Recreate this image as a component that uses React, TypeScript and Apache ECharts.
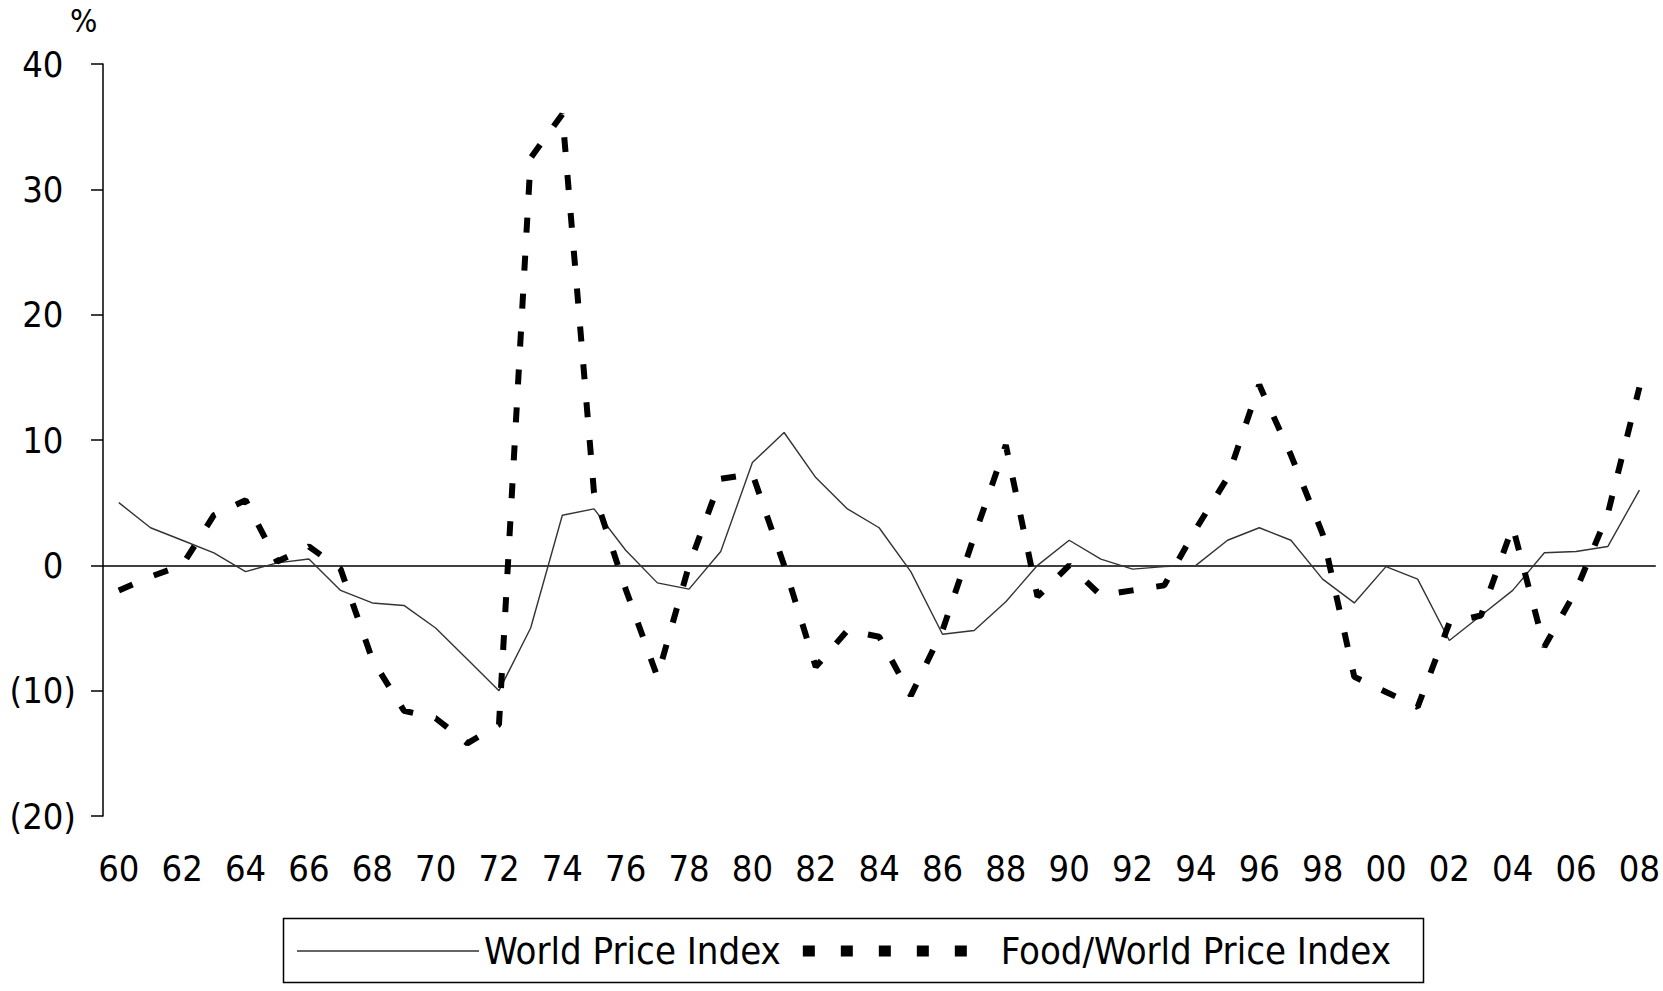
import React, { useEffect, useRef } from "react";
import * as echarts from "echarts";

const years: string[] = [
  "60","61","62","63","64","65","66","67","68","69",
  "70","71","72","73","74","75","76","77","78","79",
  "80","81","82","83","84","85","86","87","88","89",
  "90","91","92","93","94","95","96","97","98","99",
  "00","01","02","03","04","05","06","07","08",
];

const worldPriceIndex: number[] = [
  5.0, 3.0, 2.0, 1.0, -0.5, 0.2, 0.5, -2.0, -3.0, -3.2,
  -5.0, -7.5, -10.0, -5.0, 4.0, 4.5, 1.2, -1.4, -1.9, 1.1,
  8.2, 10.6, 7.0, 4.5, 3.0, -0.5, -5.5, -5.2, -2.9, 0.0,
  2.0, 0.5, -0.3, -0.1, 0.0, 2.0, 3.0, 2.0, -1.1, -3.0,
  -0.1, -1.1, -6.0, -4.0, -2.0, 1.0, 1.1, 1.5, 6.0,
];

const foodWorldPriceIndex: number[] = [
  -2.0, -0.9, 0.0, 4.0, 5.2, 0.3, 1.5, -0.3, -7.5, -11.6,
  -12.2, -14.2, -12.7, 32.5, 36.0, 5.8, -1.9, -8.9, 0.0, 6.9,
  7.3, 0.0, -8.1, -5.2, -5.7, -10.4, -5.2, 2.3, 9.6, -2.5,
  0.0, -2.4, -2.0, -1.6, 2.9, 7.0, 14.4, 8.8, 2.5, -8.9,
  -10.1, -11.3, -4.6, -4.0, 3.1, -6.5, -2.0, 4.1, 14.2,
];

const seriesNames: string[] = ["World Price Index", "Food/World Price Index"];
const yMin = -20;
const yMax = 40;
const yStep = 10;

const FONT = "'DejaVu Sans Condensed', 'DejaVu Sans', sans-serif";

// legend icons (solid thin line; row of square dashes)
const solidIcon =
  "path://M0,0L0.01,0Z M0,5.3L182,5.3L182,6.7L0,6.7Z M0,12L0.01,12Z M182,12L182.01,12Z";
const dashIcon =
  "path://M0,0.5h12v11h-12Z M38,0.5h12v11h-12Z M76,0.5h12v11h-12Z M114,0.5h12v11h-12Z M152,0.5h12v11h-12Z M0,0L0.01,0Z M182,12L182.01,12Z";

export default function App() {
  const ref = useRef<HTMLDivElement>(null);

  useEffect(() => {
    if (!ref.current) return;
    const chart = echarts.init(ref.current, undefined, { renderer: "svg" });
    chart.setOption({
      animation: false,
      backgroundColor: "#ffffff",
      grid: { left: 103, top: 64, width: 1553, height: 752, containLabel: false },
      xAxis: [
        {
          type: "category",
          data: years,
          boundaryGap: true,
          position: "bottom",
          axisLine: { show: false, onZero: false },
          axisTick: { show: false },
          splitLine: { show: false },
          axisLabel: {
            interval: 1,
            margin: 34,
            color: "#000",
            fontSize: 36,
            fontFamily: FONT,
          },
        },
        {
          type: "category",
          data: years,
          boundaryGap: true,
          position: "bottom",
          axisLine: { show: true, onZero: true, lineStyle: { color: "#000", width: 1.5 } },
          axisTick: { show: false },
          axisLabel: { show: false },
          splitLine: { show: false },
        },
      ],
      yAxis: {
        type: "value",
        min: yMin,
        max: yMax,
        interval: yStep,
        axisLine: { show: true, lineStyle: { color: "#000", width: 1.5 } },
        axisTick: { show: true, length: 12, lineStyle: { color: "#000", width: 1.5 } },
        splitLine: { show: false },
        axisLabel: {
          margin: 27,
          color: "#000",
          fontSize: 36,
          fontFamily: FONT,
          formatter: (v: number) => (v < 0 ? `(${-v})` : `${v}{h|)}`),
          rich: {
            h: { color: "rgba(0,0,0,0)", fontSize: 36, fontFamily: FONT },
          },
        },
      },
      legend: {
        show: true,
        left: 297,
        top: 932,
        padding: 0,
        itemWidth: 182,
        itemHeight: 12,
        itemGap: 22,
        itemStyle: { borderWidth: 0 },
        data: [
          { name: seriesNames[0], icon: solidIcon, itemStyle: { color: "#333", borderWidth: 0 } },
          { name: seriesNames[1], icon: dashIcon, itemStyle: { color: "#000", borderWidth: 0 } },
        ],
        formatter: (name: string) => (name === seriesNames[1] ? ` ${name}` : name),
        textStyle: { color: "#000", fontSize: 38, fontFamily: FONT },
      },
      graphic: [
        {
          type: "text",
          left: 70,
          top: 5,
          style: { text: "%", fontSize: 32, fontFamily: FONT, fill: "#000" },
        },
        {
          type: "rect",
          shape: { x: 283.5, y: 918.5, width: 1140, height: 64 },
          style: { fill: "none", stroke: "#000", lineWidth: 1.5 },
          silent: true,
        },
      ],
      series: [
        {
          name: seriesNames[0],
          type: "line",
          data: worldPriceIndex,
          symbol: "none",
          lineStyle: { color: "#333", width: 1.4, type: "solid" },
          itemStyle: { color: "#333" },
        },
        {
          name: seriesNames[1],
          type: "line",
          data: foodWorldPriceIndex,
          symbol: "none",
          lineStyle: { color: "#000", width: 6, type: [15, 23], cap: "butt" },
          itemStyle: { color: "#000" },
        },
      ],
    });
    return () => chart.dispose();
  }, []);

  return (
    <div
      ref={ref}
      style={{ position: "absolute", left: 0, top: 0, width: 1663, height: 991 }}
    />
  );
}
